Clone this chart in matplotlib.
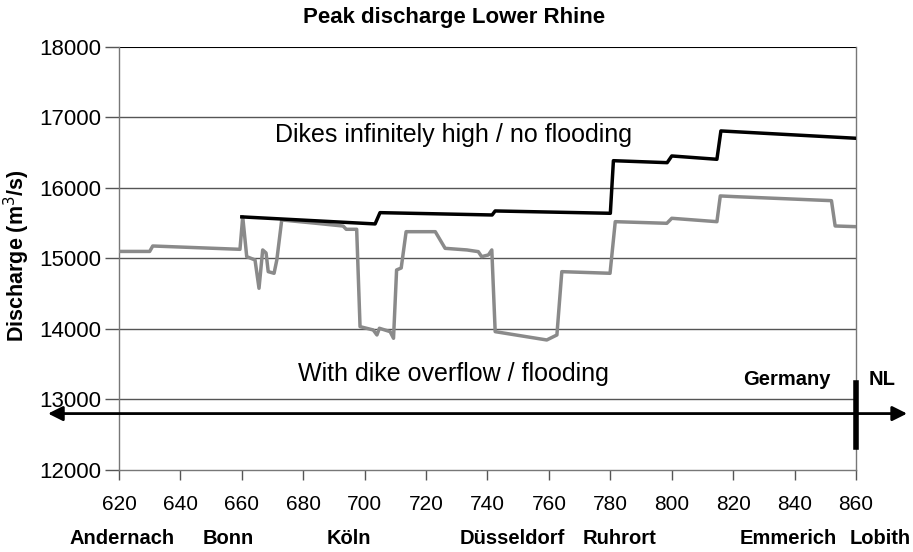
import matplotlib
matplotlib.use("Agg")
import matplotlib.pyplot as plt

plt.rcParams["font.family"] = ["Liberation Sans", "DejaVu Sans"]

# river km and peak discharge, dikes infinitely high (no flooding)
km_noflood = [660, 703.4, 705, 741.5, 742.5, 780, 781, 798.5, 800, 814.7, 816, 860]
q_noflood = [15590, 15490, 15650, 15617, 15674, 15641, 16387, 16359, 16454, 16407, 16809, 16705]

# river km and peak discharge, with dike overflow (flooding)
km_flood = [620, 630, 631, 659.4, 660.3, 661.6, 664.3, 665.6, 666.8, 667.9, 668.6, 670.5,
            671.4, 673, 684, 693, 694, 697.4, 698.5, 702.8, 704, 704.8, 708.3, 709.4,
            710.4, 711.9, 713.5, 723, 726.2, 733.3, 737, 738.1, 740.3, 741.4, 742.5,
            759.3, 762.6, 764.2, 779.9, 781.6, 798.4, 800, 814.7, 815.8, 820.6, 852,
            853.2, 860]
q_flood = [15100, 15100, 15177, 15130, 15590, 15026, 14979, 14577, 15121, 15078, 14813, 14790,
           14979, 15546, 15500, 15460, 15414, 15414, 14033, 13986, 13915, 14010, 13962, 13868,
           14837, 14865, 15380, 15380, 15144, 15121, 15097, 15026, 15050, 15121, 13962,
           13844, 13915, 14813, 14790, 15522, 15499, 15570, 15522, 15887, 15877, 15820,
           15461, 15451]

xticks = list(range(620, 861, 20))
yticks = list(range(12000, 18001, 1000))

cities = ["Andernach", "Bonn", "Köln", "Düsseldorf", "Ruhrort", "Emmerich", "Lobith"]
city_km = [621, 655.5, 695, 748, 783, 838, 868]

fig = plt.figure(figsize=(9.13, 5.52), dpi=100)
ax = fig.add_axes([0.1303, 0.1486, 0.8073, 0.7663])

for y in yticks[1:-1]:
    ax.axhline(y, color="#555555", lw=1, zorder=1)
ax.axhline(18000, color="black", lw=1.5, zorder=1)

ax.plot(km_flood, q_flood, color="#8a8a8a", lw=2.5, zorder=3)
ax.plot(km_noflood, q_noflood, color="black", lw=2.5, zorder=4)

ax.set_xlim(620, 860)
ax.set_ylim(12000, 18000)
ax.set_xticks(xticks)
ax.set_yticks(yticks)
ax.tick_params(axis="x", direction="out", length=7, width=1, color="#555555",
               labelsize=15, pad=11)
ax.tick_params(axis="y", direction="out", length=10, width=1, color="#555555",
               labelsize=16, pad=3)
for s in ["left", "bottom", "right"]:
    ax.spines[s].set_color("#777777")
    ax.spines[s].set_linewidth(1)
ax.spines["top"].set_visible(False)

ax.text(729, 16750, "Dikes infinitely high / no flooding", fontsize=18,
        ha="center", va="center")
ax.text(729, 13360, "With dike overflow / flooding", fontsize=18,
        ha="center", va="center")

# country arrow
ax.annotate("", xy=(1.073, 12800), xytext=(-0.1, 12800),
            xycoords=("axes fraction", "data"), textcoords=("axes fraction", "data"),
            arrowprops=dict(arrowstyle="<|-|>", color="black", lw=2,
                            mutation_scale=22), annotation_clip=False)
ax.plot([860, 860], [12330, 13240], color="black", lw=4, clip_on=False, zorder=5)
ax.text(837.6, 13290, "Germany", fontsize=14.5, fontweight="bold", ha="center", va="center")
ax.text(868.5, 13290, "NL", fontsize=14.5, fontweight="bold", ha="center", va="center")

trans = ax.get_xaxis_transform()
for name, k in zip(cities, city_km):
    ax.text(k, -0.162, name, transform=trans, fontsize=14.5, fontweight="bold",
            ha="center", va="center", clip_on=False)

fig.text(454 / 913, 1 - 17 / 552, "Peak discharge Lower Rhine", fontsize=16,
         fontweight="bold", ha="center", va="center")
fig.text(17 / 913, 1 - 256 / 552, "Discharge (m$^3$/s)", fontsize=15.5,
         fontweight="bold", ha="center", va="center", rotation=90)

fig.savefig("out.png", dpi=100)
